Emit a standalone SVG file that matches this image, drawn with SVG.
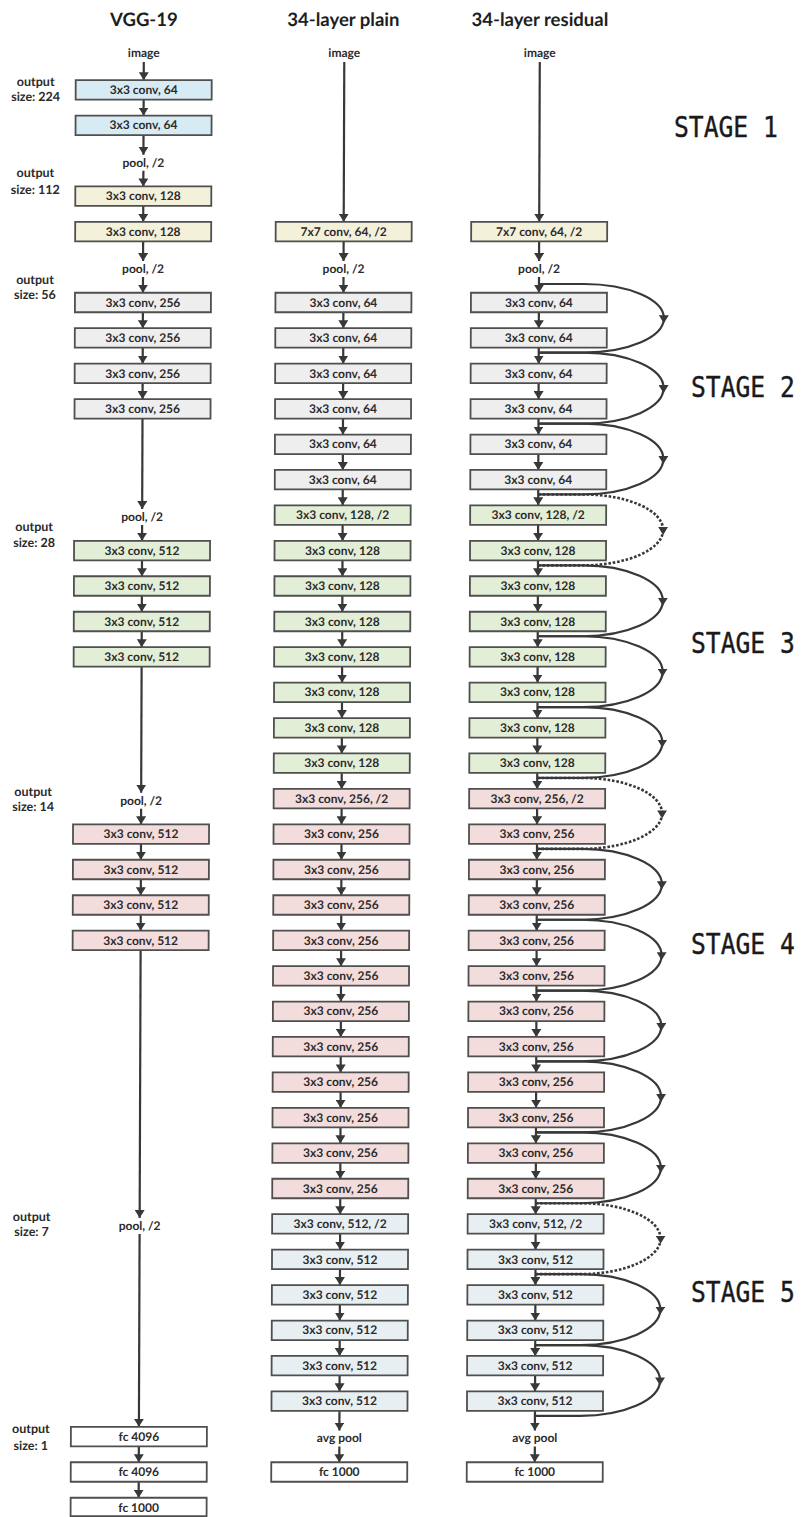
<svg xmlns="http://www.w3.org/2000/svg" width="803" height="1517" viewBox="0 0 803 1517">
<style>
.t{font-family:Lato,"Liberation Sans",sans-serif;font-weight:700;fill:#2b2b2b;text-anchor:middle}
.title{font-size:18.5px;fill:#1e1e1e}
.lb{font-size:12px}
.side{font-size:12.5px}
.bx{stroke:#4f4f4f;stroke-width:1.8}
.blue{fill:#d7ebf4}.cream{fill:#f4f1db}.gray{fill:#eeeeee}.green{fill:#e3eed7}.pink{fill:#f3dcdc}.ice{fill:#e8eff3}.white{fill:#ffffff}
.ln{stroke:#383838;stroke-width:2.2;fill:none;marker-end:url(#ah)}
.arc{stroke:#383838;stroke-width:2.2;fill:none}
.arcm{marker-end:url(#ah2)}
.dash{stroke-dasharray:2.6 1.8;stroke-width:2.6}
.stage{font-family:"DejaVu Sans Mono",monospace;font-size:29px;fill:#1a1a1a;stroke:#1a1a1a;stroke-width:0.4}
</style>
<defs>
<marker id="ah" markerUnits="userSpaceOnUse" viewBox="0 0 8 10" markerWidth="8" markerHeight="10" refX="8" refY="5" orient="auto"><path d="M0,0 L8,5 L0,10 z" fill="#383838"/></marker>
<marker id="ah2" markerUnits="userSpaceOnUse" viewBox="0 0 8 10" markerWidth="8" markerHeight="10" refX="3" refY="5" orient="auto"><path d="M0,0 L8,5 L0,10 z" fill="#383838"/></marker>
</defs>
<rect width="803" height="1517" fill="#ffffff"/>
<g transform="skewX(-0.2046)">
<g id="titles">
<text class="t title" x="144" y="26.5">VGG-19</text>
<text class="t title" x="343.5" y="26.5">34-layer plain</text>
<text class="t title" x="540" y="26.5">34-layer residual</text>
</g>
<g id="output-sizes">
<text class="t side" x="36" y="86">output</text><text class="t side" x="36" y="101">size: 224</text>
<text class="t side" x="36" y="177">output</text><text class="t side" x="36" y="194">size: 112</text>
<text class="t side" x="36" y="284">output</text><text class="t side" x="36" y="299">size: 56</text>
<text class="t side" x="36" y="531">output</text><text class="t side" x="36" y="547">size: 28</text>
<text class="t side" x="36" y="796">output</text><text class="t side" x="36" y="811">size: 14</text>
<text class="t side" x="36" y="1221">output</text><text class="t side" x="36" y="1236">size: 7</text>
<text class="t side" x="36" y="1433">output</text><text class="t side" x="36" y="1450">size: 1</text>
</g>
<g id="connectors">
<line class="ln" x1="144" y1="62" x2="144" y2="80.15"/>
<line class="ln" x1="144" y1="99.65" x2="144" y2="115.55"/>
<line class="ln" x1="144" y1="135.05" x2="144" y2="154.7"/>
<line class="ln" x1="144" y1="170.7" x2="144" y2="186.45"/>
<line class="ln" x1="144" y1="205.95" x2="144" y2="221.85"/>
<line class="ln" x1="144" y1="241.35" x2="144" y2="261.1"/>
<line class="ln" x1="144" y1="277.1" x2="144" y2="292.75"/>
<line class="ln" x1="144" y1="312.25" x2="144" y2="328.15"/>
<line class="ln" x1="144" y1="347.65" x2="144" y2="363.65"/>
<line class="ln" x1="144" y1="383.15" x2="144" y2="399.05"/>
<line class="ln" x1="144" y1="418.55" x2="144" y2="509.1"/>
<line class="ln" x1="144" y1="525.1" x2="144" y2="540.85"/>
<line class="ln" x1="144" y1="560.35" x2="144" y2="576.25"/>
<line class="ln" x1="144" y1="595.75" x2="144" y2="611.75"/>
<line class="ln" x1="144" y1="631.25" x2="144" y2="647.15"/>
<line class="ln" x1="144" y1="666.65" x2="144" y2="792.7"/>
<line class="ln" x1="144" y1="808.7" x2="144" y2="824.35"/>
<line class="ln" x1="144" y1="843.85" x2="144" y2="859.75"/>
<line class="ln" x1="144" y1="879.25" x2="144" y2="895.25"/>
<line class="ln" x1="144" y1="914.75" x2="144" y2="930.65"/>
<line class="ln" x1="144" y1="950.15" x2="144" y2="1217.9"/>
<line class="ln" x1="144" y1="1233.9" x2="144" y2="1426.85"/>
<line class="ln" x1="144" y1="1446.35" x2="144" y2="1462.25"/>
<line class="ln" x1="144" y1="1481.75" x2="144" y2="1497.75"/>

<line class="ln" x1="344.5" y1="62" x2="344.5" y2="221.85"/>
<line class="ln" x1="344.5" y1="241.35" x2="344.5" y2="261.1"/>
<line class="ln" x1="344.5" y1="277.1" x2="344.5" y2="292.75"/>
<line class="ln" x1="344.5" y1="312.25" x2="344.5" y2="328.15"/>
<line class="ln" x1="344.5" y1="347.65" x2="344.5" y2="363.65"/>
<line class="ln" x1="344.5" y1="383.15" x2="344.5" y2="399.05"/>
<line class="ln" x1="344.5" y1="418.55" x2="344.5" y2="434.55"/>
<line class="ln" x1="344.5" y1="454.05" x2="344.5" y2="469.95"/>
<line class="ln" x1="344.5" y1="489.45" x2="344.5" y2="505.35"/>
<line class="ln" x1="344.5" y1="524.85" x2="344.5" y2="540.85"/>
<line class="ln" x1="344.5" y1="560.35" x2="344.5" y2="576.25"/>
<line class="ln" x1="344.5" y1="595.75" x2="344.5" y2="611.75"/>
<line class="ln" x1="344.5" y1="631.25" x2="344.5" y2="647.15"/>
<line class="ln" x1="344.5" y1="666.65" x2="344.5" y2="682.55"/>
<line class="ln" x1="344.5" y1="702.05" x2="344.5" y2="718.05"/>
<line class="ln" x1="344.5" y1="737.55" x2="344.5" y2="753.45"/>
<line class="ln" x1="344.5" y1="772.95" x2="344.5" y2="788.95"/>
<line class="ln" x1="344.5" y1="808.45" x2="344.5" y2="824.35"/>
<line class="ln" x1="344.5" y1="843.85" x2="344.5" y2="859.75"/>
<line class="ln" x1="344.5" y1="879.25" x2="344.5" y2="895.25"/>
<line class="ln" x1="344.5" y1="914.75" x2="344.5" y2="930.65"/>
<line class="ln" x1="344.5" y1="950.15" x2="344.5" y2="966.15"/>
<line class="ln" x1="344.5" y1="985.65" x2="344.5" y2="1001.55"/>
<line class="ln" x1="344.5" y1="1021.05" x2="344.5" y2="1036.95"/>
<line class="ln" x1="344.5" y1="1056.45" x2="344.5" y2="1072.45"/>
<line class="ln" x1="344.5" y1="1091.95" x2="344.5" y2="1107.85"/>
<line class="ln" x1="344.5" y1="1127.35" x2="344.5" y2="1143.35"/>
<line class="ln" x1="344.5" y1="1162.85" x2="344.5" y2="1178.75"/>
<line class="ln" x1="344.5" y1="1198.25" x2="344.5" y2="1214.15"/>
<line class="ln" x1="344.5" y1="1233.65" x2="344.5" y2="1249.65"/>
<line class="ln" x1="344.5" y1="1269.15" x2="344.5" y2="1285.05"/>
<line class="ln" x1="344.5" y1="1304.55" x2="344.5" y2="1320.55"/>
<line class="ln" x1="344.5" y1="1340.05" x2="344.5" y2="1355.95"/>
<line class="ln" x1="344.5" y1="1375.45" x2="344.5" y2="1391.35"/>
<line class="ln" x1="344.5" y1="1410.85" x2="344.5" y2="1430.6"/>
<line class="ln" x1="344.5" y1="1446.6" x2="344.5" y2="1462.25"/>

<line class="ln" x1="540" y1="62" x2="540" y2="221.85"/>
<line class="ln" x1="540" y1="241.35" x2="540" y2="261.1"/>
<line class="ln" x1="540" y1="277.1" x2="540" y2="292.75"/>
<line class="ln" x1="540" y1="312.25" x2="540" y2="328.15"/>
<line class="ln" x1="540" y1="347.65" x2="540" y2="363.65"/>
<line class="ln" x1="540" y1="383.15" x2="540" y2="399.05"/>
<line class="ln" x1="540" y1="418.55" x2="540" y2="434.55"/>
<line class="ln" x1="540" y1="454.05" x2="540" y2="469.95"/>
<line class="ln" x1="540" y1="489.45" x2="540" y2="505.35"/>
<line class="ln" x1="540" y1="524.85" x2="540" y2="540.85"/>
<line class="ln" x1="540" y1="560.35" x2="540" y2="576.25"/>
<line class="ln" x1="540" y1="595.75" x2="540" y2="611.75"/>
<line class="ln" x1="540" y1="631.25" x2="540" y2="647.15"/>
<line class="ln" x1="540" y1="666.65" x2="540" y2="682.55"/>
<line class="ln" x1="540" y1="702.05" x2="540" y2="718.05"/>
<line class="ln" x1="540" y1="737.55" x2="540" y2="753.45"/>
<line class="ln" x1="540" y1="772.95" x2="540" y2="788.95"/>
<line class="ln" x1="540" y1="808.45" x2="540" y2="824.35"/>
<line class="ln" x1="540" y1="843.85" x2="540" y2="859.75"/>
<line class="ln" x1="540" y1="879.25" x2="540" y2="895.25"/>
<line class="ln" x1="540" y1="914.75" x2="540" y2="930.65"/>
<line class="ln" x1="540" y1="950.15" x2="540" y2="966.15"/>
<line class="ln" x1="540" y1="985.65" x2="540" y2="1001.55"/>
<line class="ln" x1="540" y1="1021.05" x2="540" y2="1036.95"/>
<line class="ln" x1="540" y1="1056.45" x2="540" y2="1072.45"/>
<line class="ln" x1="540" y1="1091.95" x2="540" y2="1107.85"/>
<line class="ln" x1="540" y1="1127.35" x2="540" y2="1143.35"/>
<line class="ln" x1="540" y1="1162.85" x2="540" y2="1178.75"/>
<line class="ln" x1="540" y1="1198.25" x2="540" y2="1214.15"/>
<line class="ln" x1="540" y1="1233.65" x2="540" y2="1249.65"/>
<line class="ln" x1="540" y1="1269.15" x2="540" y2="1285.05"/>
<line class="ln" x1="540" y1="1304.55" x2="540" y2="1320.55"/>
<line class="ln" x1="540" y1="1340.05" x2="540" y2="1355.95"/>
<line class="ln" x1="540" y1="1375.45" x2="540" y2="1391.35"/>
<line class="ln" x1="540" y1="1410.85" x2="540" y2="1430.6"/>
<line class="ln" x1="540" y1="1446.6" x2="540" y2="1462.25"/>

<path class="arc arcm" d="M540,284 H585 C629.2,284 665,299.4 665,318.3"/>
<path class="arc" d="M665,318.3 C665,337.3 629.2,352.65 585,352.65 H540"/>
<path class="arc arcm" d="M540,352.65 H585 C629.2,352.65 665,368.53 665,388.1"/>
<path class="arc" d="M665,388.1 C665,407.67 629.2,423.55 585,423.55 H540"/>
<path class="arc arcm" d="M540,423.55 H585 C629.2,423.55 665,439.43 665,459"/>
<path class="arc" d="M665,459 C665,478.57 629.2,494.45 585,494.45 H540"/>
<path class="arc dash arcm" d="M540,494.45 H585 C629.2,494.45 665,510.33 665,529.9"/>
<path class="arc dash" d="M665,529.9 C665,549.47 629.2,565.35 585,565.35 H540"/>
<path class="arc arcm" d="M540,565.35 H585 C629.2,565.35 665,581.23 665,600.8"/>
<path class="arc" d="M665,600.8 C665,620.37 629.2,636.25 585,636.25 H540"/>
<path class="arc arcm" d="M540,636.25 H585 C629.2,636.25 665,652.08 665,671.65"/>
<path class="arc" d="M665,671.65 C665,691.22 629.2,707.05 585,707.05 H540"/>
<path class="arc arcm" d="M540,707.05 H585 C629.2,707.05 665,722.93 665,742.5"/>
<path class="arc" d="M665,742.5 C665,762.07 629.2,777.95 585,777.95 H540"/>
<path class="arc dash arcm" d="M540,777.95 H585 C629.2,777.95 665,793.83 665,813.4"/>
<path class="arc dash" d="M665,813.4 C665,832.97 629.2,848.85 585,848.85 H540"/>
<path class="arc arcm" d="M540,848.85 H585 C629.2,848.85 665,864.73 665,884.3"/>
<path class="arc" d="M665,884.3 C665,903.87 629.2,919.75 585,919.75 H540"/>
<path class="arc arcm" d="M540,919.75 H585 C629.2,919.75 665,935.63 665,955.2"/>
<path class="arc" d="M665,955.2 C665,974.77 629.2,990.65 585,990.65 H540"/>
<path class="arc arcm" d="M540,990.65 H585 C629.2,990.65 665,1006.48 665,1026.05"/>
<path class="arc" d="M665,1026.05 C665,1045.62 629.2,1061.45 585,1061.45 H540"/>
<path class="arc arcm" d="M540,1061.45 H585 C629.2,1061.45 665,1077.33 665,1096.9"/>
<path class="arc" d="M665,1096.9 C665,1116.47 629.2,1132.35 585,1132.35 H540"/>
<path class="arc arcm" d="M540,1132.35 H585 C629.2,1132.35 665,1148.23 665,1167.8"/>
<path class="arc" d="M665,1167.8 C665,1187.37 629.2,1203.25 585,1203.25 H540"/>
<path class="arc dash arcm" d="M540,1203.25 H585 C629.2,1203.25 665,1219.13 665,1238.7"/>
<path class="arc dash" d="M665,1238.7 C665,1258.27 629.2,1274.15 585,1274.15 H540"/>
<path class="arc arcm" d="M540,1274.15 H585 C629.2,1274.15 665,1290.03 665,1309.6"/>
<path class="arc" d="M665,1309.6 C665,1329.17 629.2,1345.05 585,1345.05 H540"/>
<path class="arc arcm" d="M540,1345.05 H585 C629.2,1345.05 665,1360.88 665,1380.45"/>
<path class="arc" d="M665,1380.45 C665,1400.02 629.2,1415.85 585,1415.85 H540"/>
</g>

<g id="vgg-image"><text class="t lb" x="144" y="57.5">image</text></g>
<g id="vgg-conv1"><rect class="bx blue" x="76" y="80.15" width="136" height="19.5"/><text class="t lb" x="144" y="94.1">3x3 conv, 64</text></g>
<g id="vgg-conv2"><rect class="bx blue" x="76" y="115.55" width="136" height="19.5"/><text class="t lb" x="144" y="129.5">3x3 conv, 64</text></g>
<g id="vgg-pool1"><text class="t lb" x="144" y="166.7">pool, /2</text></g>
<g id="vgg-conv3"><rect class="bx cream" x="76" y="186.45" width="136" height="19.5"/><text class="t lb" x="144" y="200.4">3x3 conv, 128</text></g>
<g id="vgg-conv4"><rect class="bx cream" x="76" y="221.85" width="136" height="19.5"/><text class="t lb" x="144" y="235.8">3x3 conv, 128</text></g>
<g id="vgg-pool2"><text class="t lb" x="144" y="273.1">pool, /2</text></g>
<g id="vgg-conv5"><rect class="bx gray" x="76" y="292.75" width="136" height="19.5"/><text class="t lb" x="144" y="306.7">3x3 conv, 256</text></g>
<g id="vgg-conv6"><rect class="bx gray" x="76" y="328.15" width="136" height="19.5"/><text class="t lb" x="144" y="342.1">3x3 conv, 256</text></g>
<g id="vgg-conv7"><rect class="bx gray" x="76" y="363.65" width="136" height="19.5"/><text class="t lb" x="144" y="377.6">3x3 conv, 256</text></g>
<g id="vgg-conv8"><rect class="bx gray" x="76" y="399.05" width="136" height="19.5"/><text class="t lb" x="144" y="413">3x3 conv, 256</text></g>
<g id="vgg-pool3"><text class="t lb" x="144" y="521.1">pool, /2</text></g>
<g id="vgg-conv9"><rect class="bx green" x="76" y="540.85" width="136" height="19.5"/><text class="t lb" x="144" y="554.8">3x3 conv, 512</text></g>
<g id="vgg-conv10"><rect class="bx green" x="76" y="576.25" width="136" height="19.5"/><text class="t lb" x="144" y="590.2">3x3 conv, 512</text></g>
<g id="vgg-conv11"><rect class="bx green" x="76" y="611.75" width="136" height="19.5"/><text class="t lb" x="144" y="625.7">3x3 conv, 512</text></g>
<g id="vgg-conv12"><rect class="bx green" x="76" y="647.15" width="136" height="19.5"/><text class="t lb" x="144" y="661.1">3x3 conv, 512</text></g>
<g id="vgg-pool4"><text class="t lb" x="144" y="804.7">pool, /2</text></g>
<g id="vgg-conv13"><rect class="bx pink" x="76" y="824.35" width="136" height="19.5"/><text class="t lb" x="144" y="838.3">3x3 conv, 512</text></g>
<g id="vgg-conv14"><rect class="bx pink" x="76" y="859.75" width="136" height="19.5"/><text class="t lb" x="144" y="873.7">3x3 conv, 512</text></g>
<g id="vgg-conv15"><rect class="bx pink" x="76" y="895.25" width="136" height="19.5"/><text class="t lb" x="144" y="909.2">3x3 conv, 512</text></g>
<g id="vgg-conv16"><rect class="bx pink" x="76" y="930.65" width="136" height="19.5"/><text class="t lb" x="144" y="944.6">3x3 conv, 512</text></g>
<g id="vgg-pool5"><text class="t lb" x="144" y="1229.9">pool, /2</text></g>
<g id="vgg-fc1"><rect class="bx white" x="76" y="1426.85" width="136" height="19.5"/><text class="t lb" x="144" y="1440.8">fc 4096</text></g>
<g id="vgg-fc2"><rect class="bx white" x="76" y="1462.25" width="136" height="19.5"/><text class="t lb" x="144" y="1476.2">fc 4096</text></g>
<g id="vgg-fc3"><rect class="bx white" x="76" y="1497.75" width="136" height="18.3"/><text class="t lb" x="144" y="1511.7">fc 1000</text></g>

<g id="plain-image"><text class="t lb" x="344.5" y="57.5">image</text></g>
<g id="plain-conv7x7"><rect class="bx cream" x="276.5" y="221.85" width="136" height="19.5"/><text class="t lb" x="344.5" y="235.8">7x7 conv, 64, /2</text></g>
<g id="plain-pool"><text class="t lb" x="344.5" y="273.1">pool, /2</text></g>
<g id="plain-r0"><rect class="bx gray" x="276.5" y="292.75" width="136" height="19.5"/><text class="t lb" x="344.5" y="306.7">3x3 conv, 64</text></g>
<g id="plain-r1"><rect class="bx gray" x="276.5" y="328.15" width="136" height="19.5"/><text class="t lb" x="344.5" y="342.1">3x3 conv, 64</text></g>
<g id="plain-r2"><rect class="bx gray" x="276.5" y="363.65" width="136" height="19.5"/><text class="t lb" x="344.5" y="377.6">3x3 conv, 64</text></g>
<g id="plain-r3"><rect class="bx gray" x="276.5" y="399.05" width="136" height="19.5"/><text class="t lb" x="344.5" y="413">3x3 conv, 64</text></g>
<g id="plain-r4"><rect class="bx gray" x="276.5" y="434.55" width="136" height="19.5"/><text class="t lb" x="344.5" y="448.5">3x3 conv, 64</text></g>
<g id="plain-r5"><rect class="bx gray" x="276.5" y="469.95" width="136" height="19.5"/><text class="t lb" x="344.5" y="483.9">3x3 conv, 64</text></g>
<g id="plain-r6"><rect class="bx green" x="276.5" y="505.35" width="136" height="19.5"/><text class="t lb" x="344.5" y="519.3">3x3 conv, 128, /2</text></g>
<g id="plain-r7"><rect class="bx green" x="276.5" y="540.85" width="136" height="19.5"/><text class="t lb" x="344.5" y="554.8">3x3 conv, 128</text></g>
<g id="plain-r8"><rect class="bx green" x="276.5" y="576.25" width="136" height="19.5"/><text class="t lb" x="344.5" y="590.2">3x3 conv, 128</text></g>
<g id="plain-r9"><rect class="bx green" x="276.5" y="611.75" width="136" height="19.5"/><text class="t lb" x="344.5" y="625.7">3x3 conv, 128</text></g>
<g id="plain-r10"><rect class="bx green" x="276.5" y="647.15" width="136" height="19.5"/><text class="t lb" x="344.5" y="661.1">3x3 conv, 128</text></g>
<g id="plain-r11"><rect class="bx green" x="276.5" y="682.55" width="136" height="19.5"/><text class="t lb" x="344.5" y="696.5">3x3 conv, 128</text></g>
<g id="plain-r12"><rect class="bx green" x="276.5" y="718.05" width="136" height="19.5"/><text class="t lb" x="344.5" y="732">3x3 conv, 128</text></g>
<g id="plain-r13"><rect class="bx green" x="276.5" y="753.45" width="136" height="19.5"/><text class="t lb" x="344.5" y="767.4">3x3 conv, 128</text></g>
<g id="plain-r14"><rect class="bx pink" x="276.5" y="788.95" width="136" height="19.5"/><text class="t lb" x="344.5" y="802.9">3x3 conv, 256, /2</text></g>
<g id="plain-r15"><rect class="bx pink" x="276.5" y="824.35" width="136" height="19.5"/><text class="t lb" x="344.5" y="838.3">3x3 conv, 256</text></g>
<g id="plain-r16"><rect class="bx pink" x="276.5" y="859.75" width="136" height="19.5"/><text class="t lb" x="344.5" y="873.7">3x3 conv, 256</text></g>
<g id="plain-r17"><rect class="bx pink" x="276.5" y="895.25" width="136" height="19.5"/><text class="t lb" x="344.5" y="909.2">3x3 conv, 256</text></g>
<g id="plain-r18"><rect class="bx pink" x="276.5" y="930.65" width="136" height="19.5"/><text class="t lb" x="344.5" y="944.6">3x3 conv, 256</text></g>
<g id="plain-r19"><rect class="bx pink" x="276.5" y="966.15" width="136" height="19.5"/><text class="t lb" x="344.5" y="980.1">3x3 conv, 256</text></g>
<g id="plain-r20"><rect class="bx pink" x="276.5" y="1001.55" width="136" height="19.5"/><text class="t lb" x="344.5" y="1015.5">3x3 conv, 256</text></g>
<g id="plain-r21"><rect class="bx pink" x="276.5" y="1036.95" width="136" height="19.5"/><text class="t lb" x="344.5" y="1050.9">3x3 conv, 256</text></g>
<g id="plain-r22"><rect class="bx pink" x="276.5" y="1072.45" width="136" height="19.5"/><text class="t lb" x="344.5" y="1086.4">3x3 conv, 256</text></g>
<g id="plain-r23"><rect class="bx pink" x="276.5" y="1107.85" width="136" height="19.5"/><text class="t lb" x="344.5" y="1121.8">3x3 conv, 256</text></g>
<g id="plain-r24"><rect class="bx pink" x="276.5" y="1143.35" width="136" height="19.5"/><text class="t lb" x="344.5" y="1157.3">3x3 conv, 256</text></g>
<g id="plain-r25"><rect class="bx pink" x="276.5" y="1178.75" width="136" height="19.5"/><text class="t lb" x="344.5" y="1192.7">3x3 conv, 256</text></g>
<g id="plain-r26"><rect class="bx ice" x="276.5" y="1214.15" width="136" height="19.5"/><text class="t lb" x="344.5" y="1228.1">3x3 conv, 512, /2</text></g>
<g id="plain-r27"><rect class="bx ice" x="276.5" y="1249.65" width="136" height="19.5"/><text class="t lb" x="344.5" y="1263.6">3x3 conv, 512</text></g>
<g id="plain-r28"><rect class="bx ice" x="276.5" y="1285.05" width="136" height="19.5"/><text class="t lb" x="344.5" y="1299">3x3 conv, 512</text></g>
<g id="plain-r29"><rect class="bx ice" x="276.5" y="1320.55" width="136" height="19.5"/><text class="t lb" x="344.5" y="1334.5">3x3 conv, 512</text></g>
<g id="plain-r30"><rect class="bx ice" x="276.5" y="1355.95" width="136" height="19.5"/><text class="t lb" x="344.5" y="1369.9">3x3 conv, 512</text></g>
<g id="plain-r31"><rect class="bx ice" x="276.5" y="1391.35" width="136" height="19.5"/><text class="t lb" x="344.5" y="1405.3">3x3 conv, 512</text></g>
<g id="plain-avgpool"><text class="t lb" x="344.5" y="1441.6">avg pool</text></g>
<g id="plain-fc"><rect class="bx white" x="276.5" y="1462.25" width="136" height="19.5"/><text class="t lb" x="344.5" y="1476.2">fc 1000</text></g>

<g id="res-image"><text class="t lb" x="540" y="57.5">image</text></g>
<g id="res-conv7x7"><rect class="bx cream" x="472" y="221.85" width="136" height="19.5"/><text class="t lb" x="540" y="235.8">7x7 conv, 64, /2</text></g>
<g id="res-pool"><text class="t lb" x="540" y="273.1">pool, /2</text></g>
<g id="res-r0"><rect class="bx gray" x="472" y="292.75" width="136" height="19.5"/><text class="t lb" x="540" y="306.7">3x3 conv, 64</text></g>
<g id="res-r1"><rect class="bx gray" x="472" y="328.15" width="136" height="19.5"/><text class="t lb" x="540" y="342.1">3x3 conv, 64</text></g>
<g id="res-r2"><rect class="bx gray" x="472" y="363.65" width="136" height="19.5"/><text class="t lb" x="540" y="377.6">3x3 conv, 64</text></g>
<g id="res-r3"><rect class="bx gray" x="472" y="399.05" width="136" height="19.5"/><text class="t lb" x="540" y="413">3x3 conv, 64</text></g>
<g id="res-r4"><rect class="bx gray" x="472" y="434.55" width="136" height="19.5"/><text class="t lb" x="540" y="448.5">3x3 conv, 64</text></g>
<g id="res-r5"><rect class="bx gray" x="472" y="469.95" width="136" height="19.5"/><text class="t lb" x="540" y="483.9">3x3 conv, 64</text></g>
<g id="res-r6"><rect class="bx green" x="472" y="505.35" width="136" height="19.5"/><text class="t lb" x="540" y="519.3">3x3 conv, 128, /2</text></g>
<g id="res-r7"><rect class="bx green" x="472" y="540.85" width="136" height="19.5"/><text class="t lb" x="540" y="554.8">3x3 conv, 128</text></g>
<g id="res-r8"><rect class="bx green" x="472" y="576.25" width="136" height="19.5"/><text class="t lb" x="540" y="590.2">3x3 conv, 128</text></g>
<g id="res-r9"><rect class="bx green" x="472" y="611.75" width="136" height="19.5"/><text class="t lb" x="540" y="625.7">3x3 conv, 128</text></g>
<g id="res-r10"><rect class="bx green" x="472" y="647.15" width="136" height="19.5"/><text class="t lb" x="540" y="661.1">3x3 conv, 128</text></g>
<g id="res-r11"><rect class="bx green" x="472" y="682.55" width="136" height="19.5"/><text class="t lb" x="540" y="696.5">3x3 conv, 128</text></g>
<g id="res-r12"><rect class="bx green" x="472" y="718.05" width="136" height="19.5"/><text class="t lb" x="540" y="732">3x3 conv, 128</text></g>
<g id="res-r13"><rect class="bx green" x="472" y="753.45" width="136" height="19.5"/><text class="t lb" x="540" y="767.4">3x3 conv, 128</text></g>
<g id="res-r14"><rect class="bx pink" x="472" y="788.95" width="136" height="19.5"/><text class="t lb" x="540" y="802.9">3x3 conv, 256, /2</text></g>
<g id="res-r15"><rect class="bx pink" x="472" y="824.35" width="136" height="19.5"/><text class="t lb" x="540" y="838.3">3x3 conv, 256</text></g>
<g id="res-r16"><rect class="bx pink" x="472" y="859.75" width="136" height="19.5"/><text class="t lb" x="540" y="873.7">3x3 conv, 256</text></g>
<g id="res-r17"><rect class="bx pink" x="472" y="895.25" width="136" height="19.5"/><text class="t lb" x="540" y="909.2">3x3 conv, 256</text></g>
<g id="res-r18"><rect class="bx pink" x="472" y="930.65" width="136" height="19.5"/><text class="t lb" x="540" y="944.6">3x3 conv, 256</text></g>
<g id="res-r19"><rect class="bx pink" x="472" y="966.15" width="136" height="19.5"/><text class="t lb" x="540" y="980.1">3x3 conv, 256</text></g>
<g id="res-r20"><rect class="bx pink" x="472" y="1001.55" width="136" height="19.5"/><text class="t lb" x="540" y="1015.5">3x3 conv, 256</text></g>
<g id="res-r21"><rect class="bx pink" x="472" y="1036.95" width="136" height="19.5"/><text class="t lb" x="540" y="1050.9">3x3 conv, 256</text></g>
<g id="res-r22"><rect class="bx pink" x="472" y="1072.45" width="136" height="19.5"/><text class="t lb" x="540" y="1086.4">3x3 conv, 256</text></g>
<g id="res-r23"><rect class="bx pink" x="472" y="1107.85" width="136" height="19.5"/><text class="t lb" x="540" y="1121.8">3x3 conv, 256</text></g>
<g id="res-r24"><rect class="bx pink" x="472" y="1143.35" width="136" height="19.5"/><text class="t lb" x="540" y="1157.3">3x3 conv, 256</text></g>
<g id="res-r25"><rect class="bx pink" x="472" y="1178.75" width="136" height="19.5"/><text class="t lb" x="540" y="1192.7">3x3 conv, 256</text></g>
<g id="res-r26"><rect class="bx ice" x="472" y="1214.15" width="136" height="19.5"/><text class="t lb" x="540" y="1228.1">3x3 conv, 512, /2</text></g>
<g id="res-r27"><rect class="bx ice" x="472" y="1249.65" width="136" height="19.5"/><text class="t lb" x="540" y="1263.6">3x3 conv, 512</text></g>
<g id="res-r28"><rect class="bx ice" x="472" y="1285.05" width="136" height="19.5"/><text class="t lb" x="540" y="1299">3x3 conv, 512</text></g>
<g id="res-r29"><rect class="bx ice" x="472" y="1320.55" width="136" height="19.5"/><text class="t lb" x="540" y="1334.5">3x3 conv, 512</text></g>
<g id="res-r30"><rect class="bx ice" x="472" y="1355.95" width="136" height="19.5"/><text class="t lb" x="540" y="1369.9">3x3 conv, 512</text></g>
<g id="res-r31"><rect class="bx ice" x="472" y="1391.35" width="136" height="19.5"/><text class="t lb" x="540" y="1405.3">3x3 conv, 512</text></g>
<g id="res-avgpool"><text class="t lb" x="540" y="1441.6">avg pool</text></g>
<g id="res-fc"><rect class="bx white" x="472" y="1462.25" width="136" height="19.5"/><text class="t lb" x="540" y="1476.2">fc 1000</text></g>
</g>
<g id="stages">
<text class="stage" transform="translate(674,137) scale(0.85,1)">STAGE 1</text>
<text class="stage" transform="translate(691,397) scale(0.85,1)">STAGE 2</text>
<text class="stage" transform="translate(691,653) scale(0.85,1)">STAGE 3</text>
<text class="stage" transform="translate(691,954) scale(0.85,1)">STAGE 4</text>
<text class="stage" transform="translate(691,1302) scale(0.85,1)">STAGE 5</text>
</g>
</svg>
